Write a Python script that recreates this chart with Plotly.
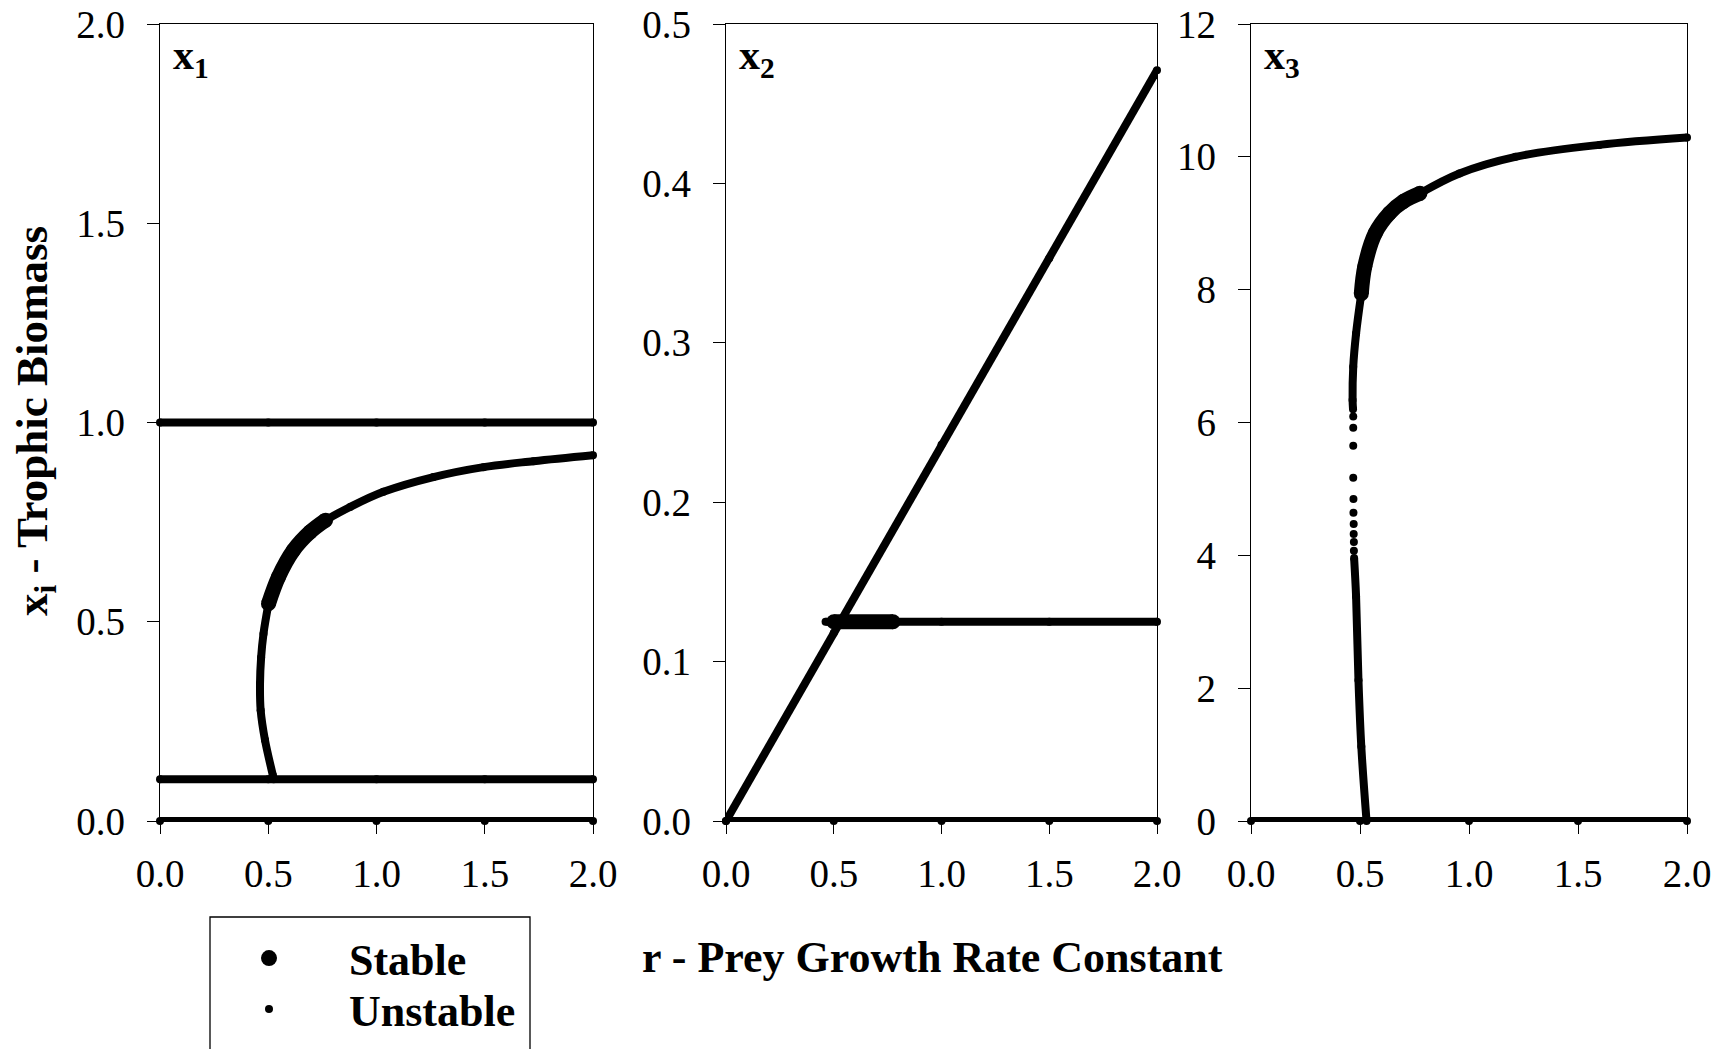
import plotly.graph_objects as go

W, H = 1728, 1049
FONT = "Liberation Serif, Times New Roman, serif"

# ---------------- data ----------------
R_FULL = [0.0, 0.5, 1.0, 1.5, 2.0]

# panel x1
X1_TOP = [1.0, 1.0, 1.0, 1.0, 1.0]
X1_LOW = [0.105, 0.105, 0.105, 0.105, 0.105]
X1_ZERO = [0.0, 0.0, 0.0, 0.0, 0.0]
X1_UNS_A_R = [0.525, 0.521, 0.485, 0.465, 0.462, 0.467, 0.478, 0.501]
X1_UNS_A_V = [0.105, 0.115, 0.203, 0.278, 0.345, 0.410, 0.470, 0.545]
X1_STB_R = [0.501, 0.547, 0.616, 0.693, 0.765]
X1_STB_V = [0.545, 0.612, 0.679, 0.725, 0.755]
X1_UNS_B_R = [0.765, 0.878, 1.032, 1.263, 1.494, 1.725, 2.0]
X1_UNS_B_V = [0.755, 0.788, 0.826, 0.863, 0.888, 0.903, 0.918]

# panel x2
X2_DIAG = [0.0, 0.118, 0.236, 0.353, 0.471]
X2_ZERO = [0.0, 0.0, 0.0, 0.0, 0.0]
X2_UNS_A_R = [0.462, 0.50]
X2_UNS_A_V = [0.125, 0.125]
X2_STB_R = [0.50, 0.775]
X2_STB_V = [0.125, 0.125]
X2_UNS_B_R = [0.775, 1.0, 1.5, 2.0]
X2_UNS_B_V = [0.125, 0.125, 0.125, 0.125]

# panel x3
X3_ZERO = [0.0, 0.0, 0.0, 0.0, 0.0]
X3_UNS_A_R = [0.530, 0.506, 0.493, 0.482, 0.473]
X3_UNS_A_V = [0.0, 1.12, 2.12, 3.38, 3.96]
X3_DOTS_R = [0.472, 0.472, 0.471, 0.471, 0.470, 0.470, 0.469, 0.469, 0.469, 0.469]
X3_DOTS_V = [4.07, 4.20, 4.32, 4.47, 4.64, 4.85, 5.17, 5.65, 5.92, 6.09]
X3_UNS_B_R = [0.468, 0.466, 0.469, 0.482, 0.506]
X3_UNS_B_V = [6.20, 6.34, 6.84, 7.34, 7.94]
X3_STB_R = [0.506, 0.522, 0.570, 0.635, 0.700, 0.775]
X3_STB_V = [7.94, 8.35, 8.85, 9.15, 9.33, 9.45]
X3_UNS_C_R = [0.775, 0.956, 1.213, 1.598, 2.0]
X3_UNS_C_V = [9.45, 9.75, 10.0, 10.18, 10.29]

# ticks
X_TICKS = [0.0, 0.5, 1.0, 1.5, 2.0]
X_TICK_TEXT = ["0.0", "0.5", "1.0", "1.5", "2.0"]
Y1_TICKS = [0.0, 0.5, 1.0, 1.5, 2.0]
Y1_TICK_TEXT = ["0.0", "0.5", "1.0", "1.5", "2.0"]
Y2_TICKS = [0.0, 0.1, 0.2, 0.3, 0.4, 0.5]
Y2_TICK_TEXT = ["0.0", "0.1", "0.2", "0.3", "0.4", "0.5"]
Y3_TICKS = [0, 2, 4, 6, 8, 10, 12]
Y3_TICK_TEXT = ["0", "2", "4", "6", "8", "10", "12"]

PANEL_LABELS = ["<b>x<sub>1</sub></b>", "<b>x<sub>2</sub></b>", "<b>x<sub>3</sub></b>"]
LEGEND_NAMES = ["Stable", "Unstable"]

# ---------------- styling ----------------
UNS_W = 8
STB_W = 15

fig = go.Figure()


def unstable(r, v, ax, shape="spline"):
    fig.add_trace(go.Scatter(
        x=r, y=v, xaxis="x" + ax, yaxis="y" + ax, mode="lines+markers",
        line=dict(color="black", width=UNS_W, shape=shape),
        marker=dict(color="black", size=UNS_W), cliponaxis=False,
        showlegend=False, hoverinfo="skip"))


def stable(r, v, ax, shape="spline"):
    fig.add_trace(go.Scatter(
        x=r, y=v, xaxis="x" + ax, yaxis="y" + ax, mode="lines+markers",
        line=dict(color="black", width=STB_W, shape=shape),
        marker=dict(color="black", size=STB_W), cliponaxis=False,
        showlegend=False, hoverinfo="skip"))


# panel 1
unstable(R_FULL, X1_TOP, "", "linear")
unstable(R_FULL, X1_LOW, "", "linear")
unstable(R_FULL, X1_ZERO, "", "linear")
unstable(X1_UNS_A_R, X1_UNS_A_V, "")
unstable(X1_UNS_B_R, X1_UNS_B_V, "")
stable(X1_STB_R, X1_STB_V, "")

# panel 2
unstable(R_FULL, X2_DIAG, "2", "linear")
unstable(R_FULL, X2_ZERO, "2", "linear")
unstable(X2_UNS_A_R, X2_UNS_A_V, "2", "linear")
unstable(X2_UNS_B_R, X2_UNS_B_V, "2", "linear")
stable(X2_STB_R, X2_STB_V, "2", "linear")

# panel 3
unstable(R_FULL, X3_ZERO, "3", "linear")
unstable(X3_UNS_A_R, X3_UNS_A_V, "3")
fig.add_trace(go.Scatter(
    x=X3_DOTS_R, y=X3_DOTS_V, xaxis="x3", yaxis="y3", mode="markers",
    marker=dict(color="black", size=UNS_W), cliponaxis=False,
    showlegend=False, hoverinfo="skip"))
unstable(X3_UNS_B_R, X3_UNS_B_V, "3")
unstable(X3_UNS_C_R, X3_UNS_C_V, "3")
stable(X3_STB_R, X3_STB_V, "3")

# legend entries (each in its own legend box so they can be placed freely)
fig.add_trace(go.Scatter(x=[None], y=[None], mode="markers", name=LEGEND_NAMES[0],
                         legend="legend", marker=dict(color="black", size=17)))
fig.add_trace(go.Scatter(x=[None], y=[None], mode="markers", name=LEGEND_NAMES[1],
                         legend="legend2", marker=dict(color="black", size=8)))

# ---------------- axes ----------------
def px_x(p):
    return p / W


def px_y(p):
    return 1 - p / H


Y_DOM = [px_y(821), px_y(24)]
X_DOMS = [[px_x(160), px_x(593)], [px_x(726), px_x(1157)], [px_x(1251), px_x(1687)]]

common = dict(showline=True, linecolor="black", linewidth=1.3, mirror=True,
              ticks="outside", ticklen=12, tickwidth=1.3, tickcolor="black",
              showgrid=False, zeroline=False, automargin=False,
              tickfont=dict(family=FONT, size=39, color="black"))

y_specs = [(Y1_TICKS, Y1_TICK_TEXT, [0, 2]),
           (Y2_TICKS, Y2_TICK_TEXT, [0, 0.5]),
           (Y3_TICKS, Y3_TICK_TEXT, [0, 12])]

layout_axes = {}
for i in range(3):
    suf = "" if i == 0 else str(i + 1)
    layout_axes["xaxis" + suf] = dict(common, domain=X_DOMS[i], range=[0, 2],
                                      anchor="y" + suf, tickvals=X_TICKS,
                                      ticktext=X_TICK_TEXT, ticklabelstandoff=6)
    tv, tt, rg = y_specs[i]
    layout_axes["yaxis" + suf] = dict(common, domain=Y_DOM, range=rg,
                                      anchor="x" + suf, tickvals=tv,
                                      ticktext=tt, ticklabelstandoff=14)

fig.update_layout(**layout_axes)

annotations = []
for i in range(3):
    suf = "" if i == 0 else str(i + 1)
    annotations.append(dict(
        text=PANEL_LABELS[i], xref="x" + suf + " domain", yref="y" + suf + " domain",
        x=0, y=1, xanchor="left", yanchor="top", xshift=11, yshift=-6,
        showarrow=False, font=dict(family=FONT, size=42, color="black")))

annotations.append(dict(
    text="<b>r - Prey Growth Rate Constant</b>", xref="paper", yref="paper",
    x=px_x(932), y=px_y(957), xanchor="center", yanchor="middle",
    showarrow=False, font=dict(family=FONT, size=44, color="black")))
annotations.append(dict(
    text="<b>x<sub>i</sub> - Trophic Biomass</b>", xref="paper", yref="paper",
    x=px_x(35), y=px_y(421), xanchor="center", yanchor="middle", textangle=-90,
    showarrow=False, font=dict(family=FONT, size=45, color="black")))

legend_common = dict(x=px_x(189), xanchor="left", yanchor="top",
                     bgcolor="rgba(0,0,0,0)", borderwidth=0, itemwidth=150,
                     itemsizing="trace",
                     font=dict(family=FONT, size=44, color="black", weight="bold"))

fig.update_layout(
    width=W, height=H, autosize=False,
    margin=dict(l=0, r=0, t=0, b=0, autoexpand=False),
    paper_bgcolor="white", plot_bgcolor="white",
    annotations=annotations,
    showlegend=True,
    legend=dict(legend_common, y=px_y(923)),
    legend2=dict(legend_common, y=px_y(974)),
    shapes=[dict(type="rect", xref="paper", yref="paper",
                 x0=px_x(210), x1=px_x(530), y0=px_y(917), y1=-0.05,
                 line=dict(color="black", width=1.3))],
)

fig.write_html("out.html")
